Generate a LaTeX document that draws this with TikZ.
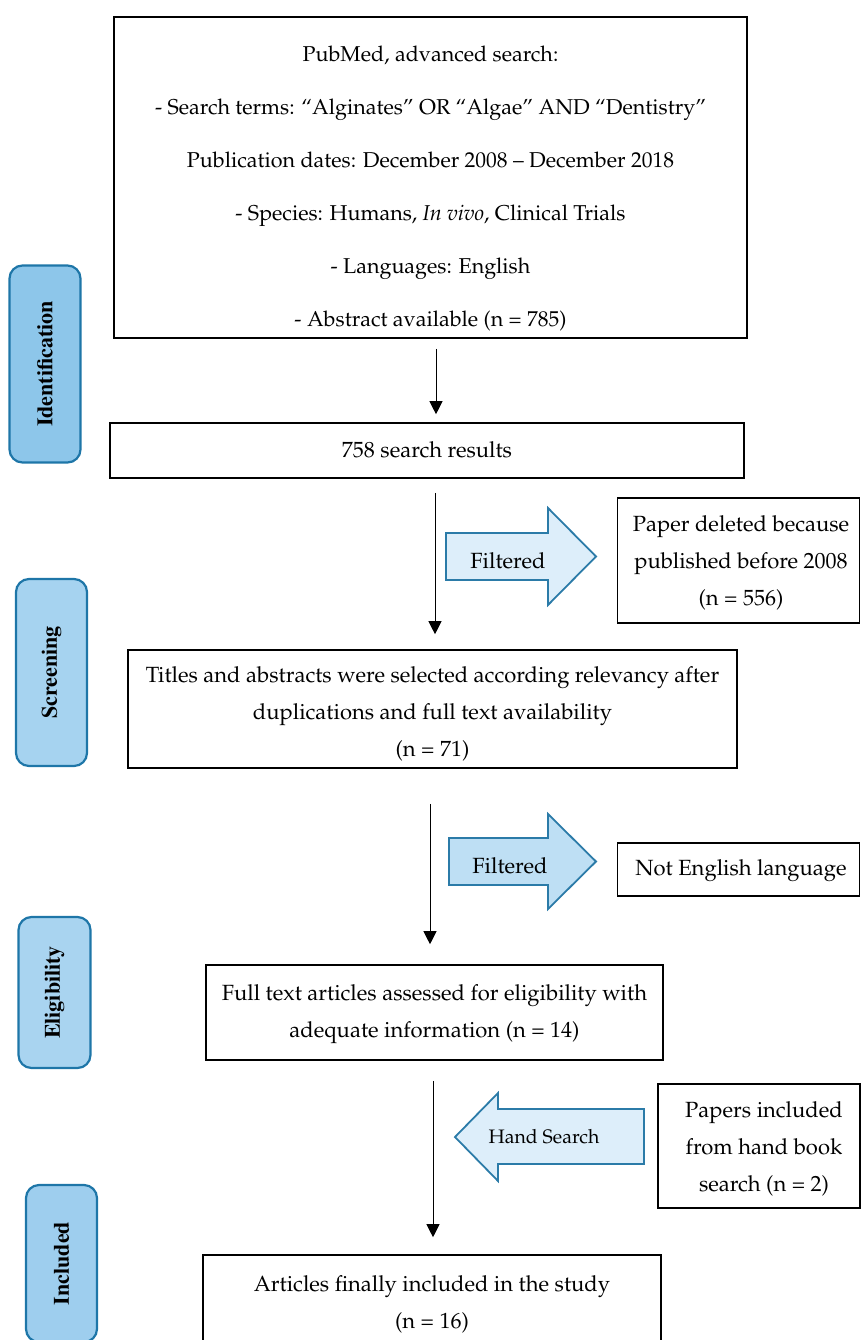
\documentclass[tikz,border=0pt]{standalone}
\usepackage[T1]{fontenc}
\usetikzlibrary{arrows.meta}
\definecolor{idfill}{HTML}{8DC6EA}
\definecolor{scfill}{HTML}{A6D3F0}
\definecolor{elfill}{HTML}{A9D4F0}
\definecolor{infill}{HTML}{9ECEEE}
\definecolor{lblborder}{HTML}{1E76A8}
\definecolor{arrborder}{HTML}{2B7BA8}
\definecolor{lightarr}{HTML}{DDEEFA}
\definecolor{midarr}{HTML}{BEDFF4}
\newcommand\palfont{\fontfamily{ppl}\selectfont}
\newcommand\timfont{\fontfamily{ptm}\selectfont}
\begin{document}
\begin{tikzpicture}[x=1pt,y=-1pt,
  flowbox/.style={draw=black, line width=1.6pt, fill=white, inner sep=0pt},
  plain/.style={inner sep=0pt, align=center, font=\palfont\fontsize{22}{37}\selectfont},
  stagebox/.style={draw=lblborder, line width=2.2pt, rounded corners=13pt, inner sep=0pt},
  stagetxt/.style={rotate=90, inner sep=0pt, font=\timfont\bfseries\fontsize{22}{26}\selectfont},
  blockarr/.style={draw=arrborder, line width=1.8pt, line join=miter},
  flowarr/.style={draw=black, line width=0.8pt, -{Triangle[length=13pt,width=13pt]}},
]
\useasboundingbox (0,0) rectangle (861,1340);
\clip (0,0) rectangle (861,1340);

% stage labels
\node[stagebox, fill=idfill, minimum width=71pt, minimum height=197pt] (ident) at (45,364) {};
\node[stagetxt] (identtxt) at (45,364) {Identification};
\node[stagebox, fill=scfill, minimum width=71pt, minimum height=187pt] (screen) at (51.5,672.5) {};
\node[stagetxt] (screentxt) at (51.5,672.5) {Screening};
\node[stagebox, fill=elfill, minimum width=72pt, minimum height=151pt] (elig) at (54.5,992.5) {};
\node[stagetxt] (eligtxt) at (54.5,992.5) {Eligibility};
\node[stagebox, fill=infill, minimum width=71pt, minimum height=157pt] (incl) at (61.5,1263.5) {};
\node[stagetxt] (incltxt) at (61.5,1263.5) {Included};

% main boxes
\node[flowbox, minimum width=633pt, minimum height=321pt] (pub) at (430.5,177.5) {};
\node[plain, font=\palfont\fontsize{21.5}{53}\selectfont] (pubtxt) at (430.5,188.5) {PubMed, advanced search:\\
- Search terms: ``Alginates'' OR ``Algae'' AND ``Dentistry''\\
Publication dates: December 2008 -- December 2018\\
- Species: Humans, \textit{In vivo}, Clinical Trials\\
- Languages: English\\
- Abstract available (n = 785)};

\node[flowbox, minimum width=634pt, minimum height=55pt] (res) at (427,450.5) {};
\node[plain] (restxt) at (427,450) {758 search results};

\node[flowbox, minimum width=242pt, minimum height=125pt] (deleted) at (738.5,560.5) {};
\node[plain] (deltxt) at (741,563) {Paper deleted because\\published before 2008\\(n = 556)};

\node[flowbox, minimum width=609pt, minimum height=118pt] (titles) at (432.5,709) {};
\node[plain] (titlestxt) at (432.5,713.5) {Titles and abstracts were selected according relevancy after\\duplications and full text availability\\(n = 71)};

\node[flowbox, minimum width=242pt, minimum height=53pt] (noteng) at (738.5,869.5) {};
\node[plain] (notengtxt) at (741,870.5) {Not English language};

\node[flowbox, minimum width=457pt, minimum height=95pt] (full) at (434.5,1012.5) {};
\node[plain] (fulltxt) at (434.5,1014.5) {Full text articles assessed for eligibility with\\adequate information (n = 14)};

\node[flowbox, minimum width=202pt, minimum height=124pt] (hand) at (759,1146) {};
\node[plain] (handboxtxt) at (764,1149) {Papers included\\from hand book\\search (n = 2)};

\node[flowbox, minimum width=458pt, minimum height=88pt] (final) at (432,1299) {};
\node[plain] (finaltxt) at (432,1304.5) {Articles finally included in the study\\(n = 16)};

% block arrows
\draw[blockarr, fill=lightarr] (446,533) -- (548,533) -- (548,508) -- (596,556.5) -- (548,605) -- (548,580) -- (446,580) -- cycle;
\node[plain] (filt1) at (508,561) {Filtered};

\draw[blockarr, fill=midarr] (449,838) -- (548,838) -- (548,814) -- (596,861.5) -- (548,909) -- (548,885) -- (449,885) -- cycle;
\node[plain] (filt2) at (510,866) {Filtered};

\draw[blockarr, fill=lightarr] (644,1109) -- (498,1109) -- (498,1093) -- (455,1137) -- (498,1181) -- (498,1164) -- (644,1164) -- cycle;
\node[plain, font=\palfont\fontsize{19.5}{26}\selectfont] (handtxt) at (544,1137) {Hand Search};

% flow arrows
\coordinate (x1) at (436,0);
\coordinate (x2) at (435,0);
\coordinate (x3) at (430,0);
\coordinate (x4) at (433,0);
\draw[flowarr, shorten <=10pt, shorten >=8pt] (pub.south -| x1) -- (res.north -| x1);
\draw[flowarr, shorten <=14pt, shorten >=15pt] (res.south -| x2) -- (titles.north -| x2);
\draw[flowarr, shorten <=35pt, shorten >=20pt] (titles.south -| x3) -- (full.north -| x3);
\draw[flowarr, shorten <=20pt, shorten >=17pt] (full.south -| x4) -- (final.north -| x4);
\end{tikzpicture}
\end{document}
